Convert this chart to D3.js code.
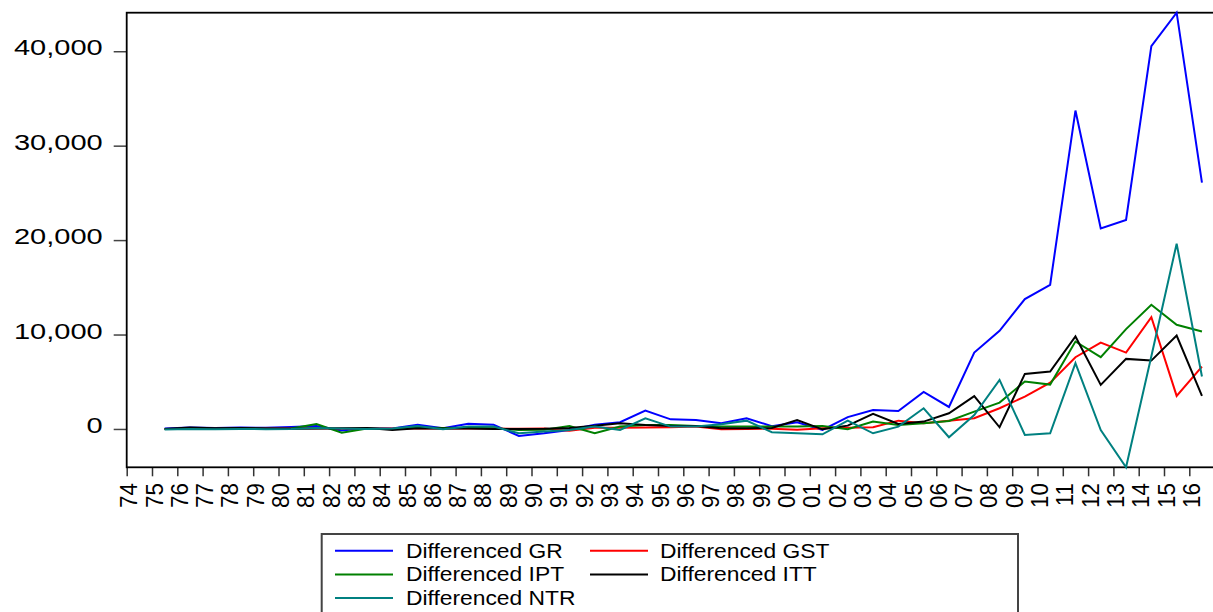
<!DOCTYPE html>
<html>
<head>
<meta charset="utf-8">
<script src="https://cdn.jsdelivr.net/npm/d3@7"></script>
<style>
body { margin: 0; background: #fff; }
text { font-family: "Liberation Sans", Arial, sans-serif; fill: #000; }
</style>
</head>
<body>
<div id="chart"></div>
<script>
// year labels 1974 - 2016
var xLabels = ['74','75','76','77','78','79','80','81','82','83','84','85','86','87','88','89',
               '90','91','92','93','94','95','96','97','98','99','00','01','02','03','04','05',
               '06','07','08','09','10','11','12','13','14','15','16'];

// first differences, first year is missing
var gr  = [null, 50, 150, 100, 150, 120, 200, 300, -150, 100, 50, 450, 70, 550, 450, -740,
           -460, -100, 450, 720, 1940, 1020, 950, 600, 1130, 300, 700, -100, 1250, 2010, 1910, 3930,
           2330, 8090, 10390, 13750, 15270, 33720, 21240, 22130, 40540, 44080, 26090];
var gst = [null, 0, 20, 30, 30, 40, 40, 50, 40, 60, 50, 60, 50, 60, 40, 30,
           40, -180, 140, 140, 150, 180, 250, -40, 0, 30, -80, 70, 140, 180, 880, 600,
           880, 1130, 2190, 3430, 4910, 7600, 9150, 8090, 11840, 3500, 6600];
var ipt = [null, 0, 30, 20, 50, 30, 40, 530, -390, 50, 0, 150, 100, 120, 80, -100,
           -80, 320, -460, 250, 420, 420, 320, 250, 250, 250, 250, 320, -35, 780, 420, 600,
           850, 1840, 2790, 5020, 4700, 9260, 7600, 10570, 13150, 11030, 10320];
var itt = [null, 0, 150, 80, 100, 60, 20, 60, 80, 100, -100, 80, 50, 50, 0, 0,
           20, 100, 350, 600, 420, 320, 320, 70, 70, 100, 950, -40, 350, 1590, 520, 780,
           1660, 3470, 180, 5830, 6080, 9790, 4670, 7420, 7240, 9890, 3500];
var ntr = [null, -50, 0, -30, 0, -20, 0, 100, 50, 0, 50, 320, -35, 250, 250, -460,
           -280, -100, 250, -100, 1130, 250, 250, 490, 880, -350, -460, -570, 880, -460, 250, 2190,
           -880, 1480, 5200, -640, -460, 6970, -110, -4060, 7700, 19620, 5550];

var yTickValues = [0, 10000, 20000, 30000, 40000];
var seriesNames = ['Differenced GR', 'Differenced GST', 'Differenced IPT', 'Differenced ITT', 'Differenced NTR'];

var series = [gr, gst, ipt, itt, ntr],
    colors = ['#0000ff', '#ff0000', '#008000', '#000000', '#008080'],
    width = 1213,
    height = 612,
    plot = { left: 126.7, top: 12.7, right: 1214.6, bottom: 467.3 };

var svg = d3.select('#chart').append('svg')
    .attr('width', width)
    .attr('height', height)
    .style('display', 'block');

svg.append('rect')
    .attr('width', width)
    .attr('height', height)
    .attr('fill', '#fff');

var allValues = [].concat.apply([], series).filter(function(d) { return d != null; });

var x = d3.scaleLinear()
    .domain([0, xLabels.length])
    .range([plot.left, plot.right]);

var y = d3.scaleLinear()
    .domain(d3.extent(allValues))
    .range([plot.bottom, plot.top]);

// y axis
var yAxis = svg.append('g')
    .attr('transform', 'translate(' + plot.left + ',0)')
    .call(d3.axisLeft(y).tickValues(yTickValues).tickSize(13).tickFormat(d3.format(',')));
yAxis.select('.domain').remove();
yAxis.selectAll('.tick line').attr('stroke', '#444').attr('stroke-width', 1.5);
yAxis.selectAll('.tick text')
    .attr('x', 0)
    .attr('dy', '0.17em')
    .attr('transform', 'translate(-24,0) scale(1.35,1)')
    .style('font-size', '21.5px');

// x axis, ticks at start of each year
var xAxis = svg.append('g')
    .attr('transform', 'translate(0,' + plot.bottom + ')')
    .call(d3.axisBottom(x).tickValues(d3.range(xLabels.length)).tickSize(9)
        .tickFormat(function(i) { return xLabels[i]; }));
xAxis.select('.domain').remove();
xAxis.selectAll('.tick line').attr('stroke', '#333').attr('stroke-width', 1.5);
xAxis.selectAll('.tick text')
    .attr('transform', 'rotate(-90) scale(0.93,1)')
    .attr('text-anchor', 'end')
    .attr('x', -17)
    .attr('y', 10)
    .attr('dy', 0)
    .style('font-size', '24px');

// frame
svg.append('rect')
    .attr('x', plot.left)
    .attr('y', plot.top)
    .attr('width', plot.right - plot.left)
    .attr('height', plot.bottom - plot.top)
    .attr('fill', 'none')
    .attr('stroke', '#000')
    .attr('stroke-width', 1.8);

var line = d3.line()
    .defined(function(d) { return d != null; })
    .x(function(d, i) { return x(i + 0.5); })
    .y(function(d) { return y(d); });

svg.append('g')
    .selectAll('path')
    .data(series)
    .enter().append('path')
        .attr('d', line)
        .attr('fill', 'none')
        .attr('stroke', function(d, i) { return colors[i]; })
        .attr('stroke-width', 2)
        .attr('stroke-linejoin', 'miter');

// legend
var legend = svg.append('g');
legend.append('rect')
    .attr('x', 321.7)
    .attr('y', 534)
    .attr('width', 696.3)
    .attr('height', 100)
    .attr('fill', '#fff')
    .attr('stroke', '#444')
    .attr('stroke-width', 2);

var item = legend.selectAll('.item')
    .data(seriesNames)
    .enter().append('g')
        .attr('class', 'item')
        .attr('transform', function(d, i) {
            return 'translate(' + [335, 590][i % 2] + ',' + (550.7 + Math.floor(i / 2) * 23.7) + ')';
        });

item.append('line')
    .attr('x1', 0)
    .attr('x2', 58)
    .attr('stroke', function(d, i) { return colors[i]; })
    .attr('stroke-width', 2);

item.append('text')
    .attr('transform', function(d, i) { return 'translate(' + [71, 70][i % 2] + ',0) scale(1.17,1)'; })
    .attr('dy', '0.36em')
    .style('font-size', '19.5px')
    .text(function(d) { return d; });
</script>
</body>
</html>
